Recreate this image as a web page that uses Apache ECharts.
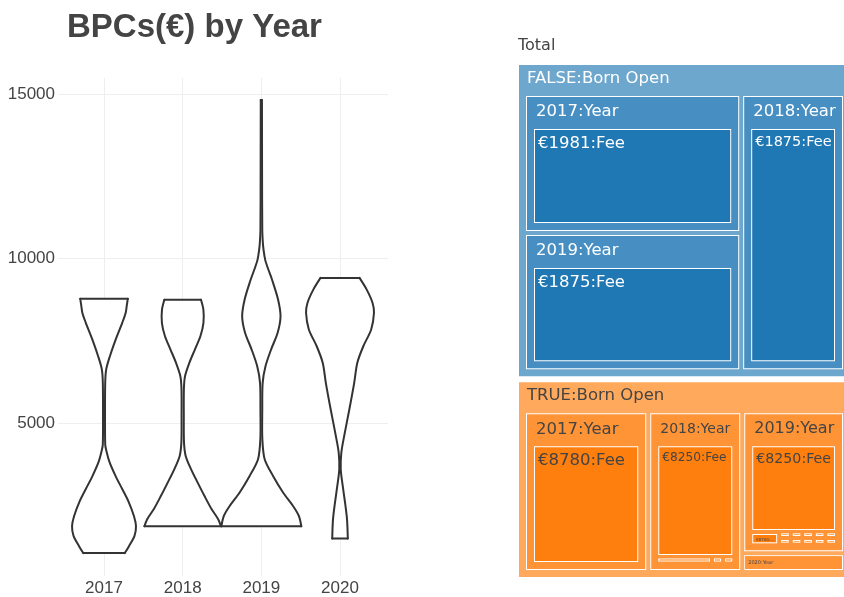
<!DOCTYPE html>
<html>
<head>
<meta charset="utf-8">
<script src="https://cdn.jsdelivr.net/npm/echarts@6/dist/echarts.min.js"></script>
<style>
html, body { margin: 0; padding: 0; background: #fff; }
#chart { width: 844px; height: 597px; }
</style>
</head>
<body>
<div id="chart"></div>
<script>
// ---------- Violin data (fee values and relative density) ----------
const years = ['2017', '2018', '2019', '2020'];
const yTicks = [5000, 10000, 15000];
const xTicks = [0, 1, 2, 3];

const fee2017 = [8780, 8580, 8360, 8060, 7550, 7030, 6640, 6240, 5120, 4360, 4210, 3820, 3390, 3000, 2610, 2180, 1880, 1580, 1270, 1060];
const density2017 = [0.595, 0.57, 0.543, 0.458, 0.293, 0.145, 0.055, 0.03, 0.025, 0.03, 0.05, 0.138, 0.293, 0.458, 0.618, 0.75, 0.8, 0.763, 0.625, 0.52];

const fee2018 = [8750, 8450, 8050, 7650, 7240, 6840, 6430, 6030, 5200, 4420, 4010, 3610, 3200, 2800, 2390, 2090, 1875];
const density2018 = [0.458, 0.518, 0.52, 0.445, 0.305, 0.168, 0.058, 0.03, 0.028, 0.033, 0.075, 0.208, 0.375, 0.543, 0.725, 0.888, 0.958];

const fee2019 = [14820, 12700, 10880, 10480, 10270, 9970, 9670, 9360, 8760, 8250, 7750, 7240, 6740, 6230, 5420, 4520, 3910, 3400, 2900, 2490, 2190, 1875];
const density2019 = [0.015, 0.018, 0.023, 0.038, 0.055, 0.095, 0.175, 0.268, 0.418, 0.48, 0.408, 0.243, 0.105, 0.033, 0.023, 0.025, 0.083, 0.293, 0.543, 0.793, 0.938, 1.0];

const fee2020 = [9415, 9060, 8660, 8355, 7850, 7340, 6840, 6230, 5420, 4620, 4110, 3610, 3100, 2600, 2090, 1500];
const density2020 = [0.488, 0.668, 0.813, 0.85, 0.78, 0.583, 0.433, 0.355, 0.233, 0.105, 0.033, 0.018, 0.068, 0.125, 0.175, 0.195];

// ---------- Treemap data (one entry per leaf) ----------
const leafBornOpen = ['FALSE', 'FALSE', 'FALSE',
  'TRUE', 'TRUE', 'TRUE', 'TRUE', 'TRUE',
  'TRUE', 'TRUE', 'TRUE', 'TRUE', 'TRUE', 'TRUE', 'TRUE', 'TRUE', 'TRUE', 'TRUE', 'TRUE', 'TRUE',
  'TRUE'];
const leafYear = ['2017', '2019', '2018',
  '2017', '2018', '2018', '2018', '2018',
  '2019', '2019', '2019', '2019', '2019', '2019', '2019', '2019', '2019', '2019', '2019', '2019',
  '2020'];
const leafFee = ['€1981', '€1875', '€1875',
  '€8780', '€8250', '€8780', '€9000', '€7500',
  '€8250', '€8780', '€1500', '€2000', '€2500', '€3000', '€3500', '€4000', '€5000', '€6000', '€7000', '€9400',
  '€9400'];
const leafCount = [216, 215, 206,
  156, 111, 5, 1, 1,
  99, 5, 1, 1, 1, 1, 1, 1, 1, 1, 1, 1,
  15];

// ---------- styles ----------
const VIOLIN_HALF = 0.508;
const palette = {
  FALSE: { outer: '#6da7ce', year: '#478fc2', leaf: '#1f77b4', text: '#ffffff' },
  TRUE:  { outer: '#ffa95c', year: '#ff9436', leaf: '#ff7f0e', text: '#444444' }
};
const yearLabelSize = { 'TRUE/2018': 14, 'TRUE/2019': 16 };
const leafLabelSize = { 'FALSE/2018/€1875': 14.5, 'TRUE/2018/€8250': 12.2, 'TRUE/2019/€8250': 14.2 };
const TREE_FONT = 'DejaVu Sans';

// ---------- build treemap tree ----------
function wrap(node) { return { name: node.name, children: [node] }; }
const bornOrder = [];
const yearOrder = {};
leafBornOpen.forEach((b, i) => {
  if (bornOrder.indexOf(b) < 0) { bornOrder.push(b); yearOrder[b] = []; }
  if (yearOrder[b].indexOf(leafYear[i]) < 0) yearOrder[b].push(leafYear[i]);
});
const totalNode = {
  name: 'Total',
  children: bornOrder.map(b => {
    const pal = palette[b];
    return wrap({
      name: b + ':Born Open',
      itemStyle: { borderColor: pal.outer, color: pal.outer },
      upperLabel: { color: pal.text },
      children: yearOrder[b].map(y => {
        const key = b + '/' + y;
        const leaves = [];
        leafBornOpen.forEach((bb, i) => {
          if (bb !== b || leafYear[i] !== y) return;
          const lk = key + '/' + leafFee[i];
          const small = leafCount[i] < 10;
          leaves.push({
            name: leafFee[i] + ':Fee',
            value: leafCount[i],
            itemStyle: { color: pal.leaf },
            label: small
              ? { color: pal.text, fontSize: 4, padding: [3, 0, 0, 3], overflow: 'truncate' }
              : { color: pal.text, fontSize: leafLabelSize[lk] || 16.5 }
          });
        });
        const yearNode = {
          name: y + ':Year',
          itemStyle: { borderColor: pal.year, color: pal.year },
          upperLabel: { color: pal.text, fontSize: yearLabelSize[key] || 16.5 },
          label: { color: pal.text, fontSize: yearLabelSize[key] || 16.5 },
          children: leaves
        };
        if (key === 'TRUE/2020') {
          yearNode.itemStyle.borderWidth = 0;
          yearNode.label = { color: pal.text, fontSize: 5, padding: [4, 0, 0, 3], position: 'insideTopLeft' };
          yearNode.upperLabel = { color: pal.text, fontSize: 5 };
        }
        return wrap(yearNode);
      })
    });
  })
};

// ---------- chart ----------
const violinValues = [fee2017, fee2018, fee2019, fee2020];
const violinDensity = [density2017, density2018, density2019, density2020];

const chart = echarts.init(document.getElementById('chart'), null, { renderer: 'canvas' });
const strokeStyle = { stroke: '#333333', lineWidth: 2, fill: null, lineJoin: 'round', lineCap: 'round' };

chart.setOption({
  animation: false,
  backgroundColor: '#ffffff',
  textStyle: { fontFamily: 'Liberation Sans' },
  title: {
    text: 'BPCs(€) by Year',
    left: 67, top: 11, padding: 0,
    textStyle: { fontFamily: 'Liberation Sans', fontWeight: 'bold', fontSize: 33, color: '#444444' }
  },
  grid: { left: 58, right: 456, top: 78, bottom: 20, containLabel: false },
  xAxis: {
    type: 'value', min: -0.585, max: 3.61,
    axisLine: { show: false },
    axisTick: { show: false, customValues: xTicks },
    axisLabel: { customValues: xTicks, formatter: v => years[Math.round(v)], color: '#444444', fontSize: 17, margin: 4, fontFamily: 'Liberation Sans' },
    splitLine: { show: true, lineStyle: { color: '#eeeeee', width: 1 } }
  },
  yAxis: {
    type: 'value', min: 364, max: 15485,
    axisLine: { show: false },
    axisTick: { show: false, customValues: yTicks },
    axisLabel: { customValues: yTicks, formatter: v => String(Math.round(v)), color: '#444444', fontSize: 17, margin: 3, fontFamily: 'Liberation Sans' },
    splitLine: { show: true, lineStyle: { color: '#eeeeee', width: 1 } }
  },
  series: [
    {
      type: 'custom',
      data: years.map((y, i) => [i, violinValues[i][0]]),
      encode: { x: 0, y: 1 },
      renderItem: function (params, api) {
        const i = api.value(0);
        const vals = violinValues[i];
        const dens = violinDensity[i];
        const cx = api.coord([i, vals[0]])[0];
        const half = api.size([VIOLIN_HALF, 0])[0];
        const right = vals.map((v, k) => [cx + dens[k] * half, api.coord([i, v])[1]]);
        const left = vals.map((v, k) => [cx - dens[k] * half, api.coord([i, v])[1]]);
        const n = vals.length - 1;
        const poly = right.concat(left.slice().reverse());
        return {
          type: 'group',
          children: [
            { type: 'polygon', shape: { points: poly }, style: { fill: '#ffffff', stroke: null } },
            { type: 'polyline', shape: { points: right, smooth: 0.3 }, style: strokeStyle },
            { type: 'polyline', shape: { points: left, smooth: 0.3 }, style: strokeStyle },
            { type: 'line', shape: { x1: left[0][0], y1: left[0][1], x2: right[0][0], y2: right[0][1] }, style: strokeStyle },
            { type: 'line', shape: { x1: left[n][0], y1: left[n][1], x2: right[n][0], y2: right[n][1] }, style: strokeStyle }
          ]
        };
      }
    },
    {
      type: 'treemap',
      left: 510, top: 32, width: 349, height: 554,
      roam: false,
      nodeClick: false,
      squareRatio: 1,
      visibleMin: 4,
      breadcrumb: { show: false },
      emphasis: { disabled: true },
      label: { show: true, position: 'insideTopLeft', fontFamily: TREE_FONT, padding: [5, 2, 0, 3], overflow: 'none' },
      upperLabel: { fontFamily: TREE_FONT, overflow: 'none' },
      levels: [
        { itemStyle: { borderWidth: 0, gapWidth: 0, borderColor: '#ffffff' }, upperLabel: { show: false } },
        { itemStyle: { borderColor: '#ffffff', color: '#ffffff', borderWidth: 8, gapWidth: 4 },
          upperLabel: { show: true, height: 32, color: '#444444', fontSize: 16, fontFamily: TREE_FONT, padding: [0, 0, 0, 0], offset: [0, -2] } },
        { itemStyle: { borderColor: '#ffffff', borderWidth: 1, gapWidth: 0 }, upperLabel: { show: false } },
        { itemStyle: { borderWidth: 7, gapWidth: 4 },
          upperLabel: { show: true, height: 31, fontSize: 16.5, fontFamily: TREE_FONT, padding: [0, 0, 0, 1], offset: [0, -2] } },
        { itemStyle: { borderColor: '#ffffff', borderWidth: 1, gapWidth: 0 }, upperLabel: { show: false } },
        { itemStyle: { borderWidth: 7, gapWidth: 4 },
          upperLabel: { show: true, height: 32, fontSize: 16.5, fontFamily: TREE_FONT, padding: [0, 0, 0, 2], offset: [0, -1] } },
        { itemStyle: { borderColor: '#ffffff', borderWidth: 1, gapWidth: 0 },
          label: { show: true, position: 'insideTopLeft', fontFamily: TREE_FONT, padding: [5, 2, 0, 3] } }
      ],
      data: [totalNode]
    }
  ]
});
</script>
</body>
</html>
